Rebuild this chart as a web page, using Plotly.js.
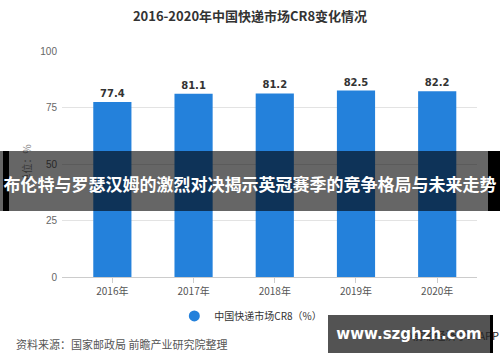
<!DOCTYPE html>
<html><head><meta charset="utf-8">
<script src="https://cdn.plot.ly/plotly-3.0.1.min.js"></script>
<style>
html,body{margin:0;padding:0;background:#fff;}
#wrap{position:relative;width:500px;height:362px;overflow:hidden;}
#chart{position:absolute;left:0;top:0;width:500px;height:362px;}
.band{position:absolute;left:0;top:151px;width:500px;height:60px;background:rgba(0,0,0,0.6);}
.bl{position:absolute;left:3px;top:151px;width:6px;height:60px;background:#000;}
.br{position:absolute;left:488px;top:151px;width:12px;height:60px;background:#000;}
.btxt{position:absolute;left:0;top:171px;width:500px;text-align:center;color:#fff;font:bold 17px "Noto Sans CJK SC";white-space:nowrap;line-height:26px;}
.src{position:absolute;left:16px;top:335px;color:#555;font:11px "Noto Sans CJK SC";white-space:nowrap;line-height:18px;}
.wm{position:absolute;left:402px;top:327px;color:#222;font:11px "Noto Sans CJK SC";white-space:nowrap;line-height:16px;}
.box{position:absolute;left:328px;top:315px;width:162px;height:38px;background:rgba(40,40,40,0.8);}
.boxr{position:absolute;left:490px;top:315px;width:3px;height:38px;background:#000;}
.boxt{position:absolute;left:328px;top:321px;width:162px;height:26px;text-align:center;color:#fff;font:bold 15px "DejaVu Sans";line-height:26px;}
</style></head>
<body><div id="wrap"><div id="chart"></div>
<div class="band"></div><div class="bl"></div><div class="br"></div>
<div class="btxt" id="bannerText"></div>
<div class="src" id="srcText"></div>
<div class="wm" id="wmText"></div>
<div class="box"></div><div class="boxr"></div><div class="boxt" id="siteText"></div>
</div>
<script>
var years = ["2016年","2017年","2018年","2019年","2020年"];
var cr8 = [77.4, 81.1, 81.2, 82.5, 82.2];
var yTicks = [0, 25, 50, 75, 100];
var seriesName = "中国快递市场CR8（%）";
var titleText = "2016-2020年中国快递市场CR8变化情况";
var sourceText = "资料来源：国家邮政局 前瞻产业研究院整理";
var bannerText = "布伦特与罗瑟汉姆的激烈对决揭示英冠赛季的竞争格局与未来走势";
var siteText = "www.szghzh.com";
var wmText = "@前瞻经济学人APP";
document.getElementById("bannerText").textContent = bannerText;
document.getElementById("srcText").textContent = sourceText;
document.getElementById("siteText").textContent = siteText;
document.getElementById("wmText").textContent = wmText;

var blue = "#2481db";
var cjk = '"Noto Sans CJK SC", sans-serif';

var traces = [
 {type:"bar", x:years, y:cr8, marker:{color:blue}, width:0.47,
  text:cr8.map(function(v){return v.toFixed(1);}), textposition:"outside",
  textfont:{family:"DejaVu Sans", size:10, color:"#333", weight:"bold"},
  cliponaxis:false, showlegend:false, hoverinfo:"none"},
 {type:"scatter", mode:"markers", x:[null], y:[null], name:seriesName,
  marker:{color:blue, size:11, symbol:"circle"}, showlegend:true}
];
var layout = {
 width:500, height:362,
 margin:{l:62, r:23, t:51, b:85},
 paper_bgcolor:"#fff", plot_bgcolor:"#fff",
 font:{family:cjk, color:"#555", size:10},
 title:{text:"<b>"+titleText+"</b>", x:0.5, xanchor:"center", y:0.955, yanchor:"middle",
   font:{family:cjk, size:13, color:"#333"}},
 xaxis:{type:"category", range:[-0.62,4.49], showgrid:false, showline:true, linecolor:"#ccc",
   ticks:"outside", ticklen:5, tickcolor:"#ccc", tickfont:{size:10, color:"#555", family:cjk}},
 yaxis:{range:[0,100], tickvals:yTicks, showgrid:true, gridcolor:"#e3e3e3", zeroline:false,
   showline:false, ticks:"", ticklabelstandoff:4, tickfont:{size:10, color:"#666", family:"Liberation Sans"},
   title:{text:"单位：%", standoff:6, font:{size:10, color:"#888", family:cjk}}},
 bargap:0.53,
 showlegend:true,
 legend:{orientation:"h", x:0.455, xanchor:"center", y:-0.108, yanchor:"top",
   bgcolor:"rgba(0,0,0,0)", font:{size:10, color:"#333", family:cjk}}
};
Plotly.newPlot("chart", traces, layout, {staticPlot:true, displayModeBar:false});
</script></body></html>
